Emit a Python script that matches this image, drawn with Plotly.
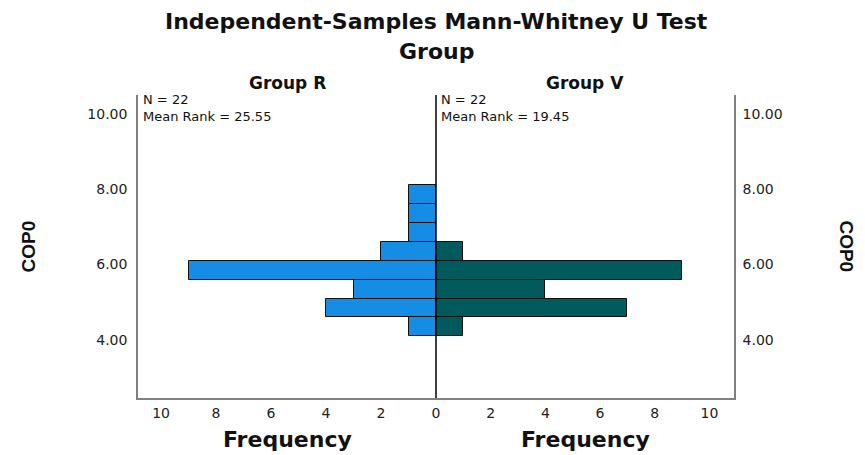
import plotly.graph_objects as go

# Data
bin_centers = [4.35, 4.85, 5.35, 5.85, 6.35, 6.85, 7.35, 7.85]
group_r_freq = [1, 4, 3, 9, 2, 1, 1, 1]
group_v_freq = [1, 7, 4, 9, 1, 0, 0, 0]
y_ticks = [4, 6, 8, 10]
x_ticks_left = [0, 2, 4, 6, 8, 10]
x_ticks_right = [2, 4, 6, 8, 10]
title_line1 = "Independent-Samples Mann-Whitney U Test"
title_line2 = "Group"
group_names = ["Group R", "Group V"]
group_n = [22, 22]
mean_ranks = [25.55, 19.45]
y_label = "COP0"
x_label = "Frequency"

BLUE = "#168de4"
TEAL = "#015a5b"
FONT = "DejaVu Sans"
AXIS_GRAY = "#808080"

fig = go.Figure()
fig.add_trace(go.Bar(
    x=group_r_freq, y=bin_centers, orientation="h", width=0.5,
    marker=dict(color=BLUE, line=dict(color="#111111", width=1)),
    xaxis="x", yaxis="y", showlegend=False, hoverinfo="x+y"))
fig.add_trace(go.Bar(
    x=group_v_freq, y=bin_centers, orientation="h", width=0.5,
    marker=dict(color=TEAL, line=dict(color="#111111", width=1)),
    xaxis="x2", yaxis="y2", showlegend=False, hoverinfo="x+y"))

tickfont = dict(family=FONT, size=14, color="#222222")
yrange = [2.46, 10.5]

# page body has an 8px margin, so the figure is 8px smaller and offset
fig.update_layout(
    width=857, height=447,
    margin=dict(l=130, r=131, t=87, b=57),
    paper_bgcolor="white", plot_bgcolor="white",
    bargap=0,
    xaxis=dict(domain=[0, 0.5], range=[10.84, 0], tickvals=x_ticks_left,
               ticks="", showgrid=False, zeroline=False, showline=True,
               linecolor=AXIS_GRAY, linewidth=1.5, tickfont=tickfont,
               ticklabelstandoff=1, anchor="y"),
    xaxis2=dict(domain=[0.5, 1], range=[0, 10.9], tickvals=x_ticks_right,
                ticks="", showgrid=False, zeroline=False, showline=True,
                linecolor=AXIS_GRAY, linewidth=1.5, tickfont=tickfont,
                ticklabelstandoff=1, anchor="y2"),
    yaxis=dict(range=yrange, tickvals=y_ticks, tickformat=".2f", ticks="",
               showgrid=False, zeroline=False, showline=True,
               linecolor=AXIS_GRAY, linewidth=1.5, tickfont=tickfont,
               ticklabelstandoff=6, anchor="x"),
    yaxis2=dict(range=yrange, tickvals=y_ticks, tickformat=".2f", ticks="",
                side="right", matches="y", showgrid=False, zeroline=False,
                showline=True, linecolor=AXIS_GRAY, linewidth=1.5,
                tickfont=tickfont, ticklabelstandoff=4, anchor="x2"),
    shapes=[dict(type="line", xref="paper", yref="paper", x0=0.5, x1=0.5,
                 y0=0, y1=1, line=dict(color="#000000", width=1.5))],
)

ann = []
ann.append(dict(text=title_line1, x=0.5, y=1.241, xref="paper", yref="paper",
                xanchor="center", yanchor="middle", showarrow=False,
                font=dict(family=FONT, size=22, color="#111111", weight="bold")))
ann.append(dict(text=title_line2, x=0.5, y=1.142, xref="paper", yref="paper",
                xanchor="center", yanchor="middle", showarrow=False,
                font=dict(family=FONT, size=22, color="#111111", weight="bold")))
for i, name in enumerate(group_names):
    cx = 0.25 + 0.5 * i
    ann.append(dict(text=name, x=cx, y=1.0396, xref="paper", yref="paper",
                    xanchor="center", yanchor="middle", showarrow=False,
                    font=dict(family=FONT, size=17, color="#111111", weight="bold")))
    lx = 0.0067 + 0.5 * i
    ann.append(dict(text=f"N = {group_n[i]}<br>Mean Rank = {mean_ranks[i]:.2f}",
                    x=lx, y=1.012, xref="paper", yref="paper",
                    xanchor="left", yanchor="top", align="left", showarrow=False,
                    borderpad=0,
                    font=dict(family=FONT, size=13, color="#111111")))
    ann.append(dict(text=x_label, x=cx, y=-0.1386, xref="paper", yref="paper",
                    xanchor="center", yanchor="middle", showarrow=False,
                    font=dict(family=FONT, size=22, color="#111111", weight="bold")))
ann.append(dict(text=y_label, x=-0.183, y=0.5, xref="paper", yref="paper",
                xanchor="center", yanchor="middle", showarrow=False, textangle=-90,
                font=dict(family="Liberation Sans", size=19, color="#111111", weight="bold")))
ann.append(dict(text=y_label, x=1.188, y=0.5, xref="paper", yref="paper",
                xanchor="center", yanchor="middle", showarrow=False, textangle=90,
                font=dict(family="Liberation Sans", size=19, color="#111111", weight="bold")))
fig.update_layout(annotations=ann)

fig.write_html("out.html")
